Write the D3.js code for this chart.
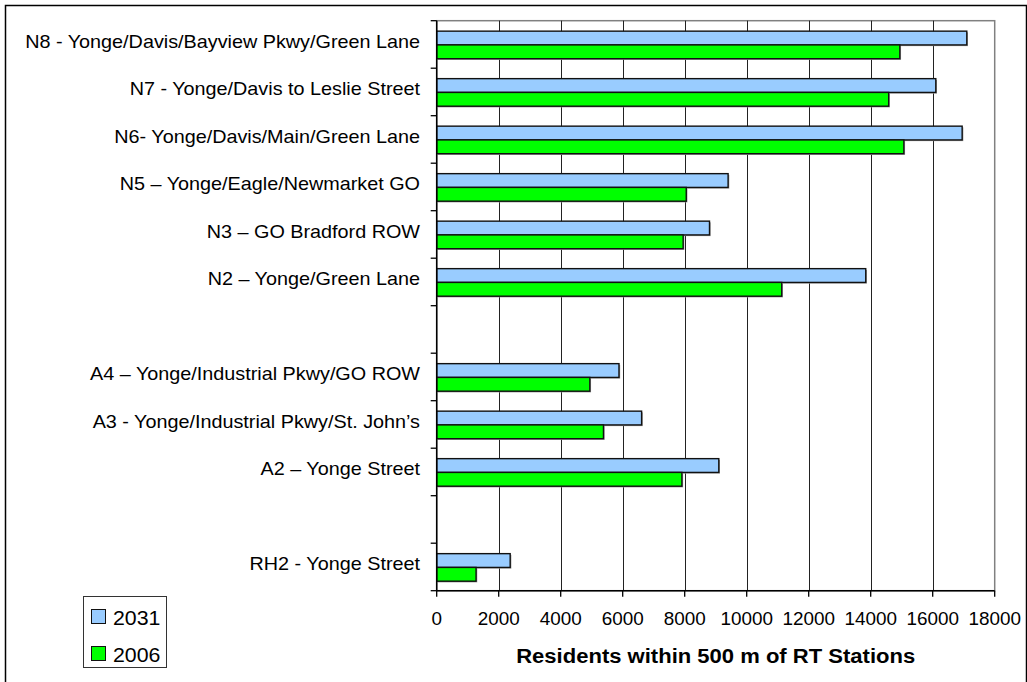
<!DOCTYPE html>
<html>
<head>
<meta charset="utf-8">
<script src="https://cdn.jsdelivr.net/npm/d3@7"></script>
<style>
  html, body { margin: 0; padding: 0; background: #fff; }
  svg { display: block; font-family: "Liberation Sans", Arial, sans-serif; }
</style>
</head>
<body>
<svg id="chart" width="1027" height="682"></svg>
<script>
// ---- data ----
const categories = [
  "N8 - Yonge/Davis/Bayview Pkwy/Green Lane",
  "N7 - Yonge/Davis to Leslie Street",
  "N6- Yonge/Davis/Main/Green Lane",
  "N5 – Yonge/Eagle/Newmarket GO",
  "N3 – GO Bradford ROW",
  "N2 – Yonge/Green Lane",
  "",
  "A4 – Yonge/Industrial Pkwy/GO ROW",
  "A3 - Yonge/Industrial Pkwy/St. John’s",
  "A2 – Yonge Street",
  " ",
  "RH2 - Yonge Street"
];
const values2031 = [17100, 16100, 16950, 9400, 8800, 13840, null, 5880, 6610, 9100, null, 2370];
const values2006 = [14940, 14580, 15070, 8050, 7950, 11130, null, 4940, 5380, 7910, null, 1270];
const seriesNames = ["2031", "2006"];
const seriesColors = ["#99CCFF", "#00FF00"];
const xTicks = [0, 2000, 4000, 6000, 8000, 10000, 12000, 14000, 16000, 18000];
const xTitle = "Residents within 500 m of RT Stations";

// ---- layout ----
const svg = d3.select("#chart");
const plot = { left: 436.7, right: 994.7, top: 20.7, bottom: 590.7 };

// outer frame
svg.append("rect")
  .attr("x", 5.5).attr("y", 5.5)
  .attr("width", 1021).attr("height", 690)
  .attr("fill", "none").attr("stroke", "#000").attr("stroke-width", 1.5);

const x = d3.scaleLinear().domain([0, 18000]).range([plot.left, plot.right]);
const y = d3.scaleBand().domain(categories).range([plot.top, plot.bottom]).padding(0);
const bw = y.bandwidth();
const y1 = d3.scaleBand().domain(seriesNames).range([0.22 * bw, 0.8 * bw]).padding(0);

// plot area border (gray)
svg.append("rect")
  .attr("x", plot.left).attr("y", plot.top)
  .attr("width", plot.right - plot.left).attr("height", plot.bottom - plot.top)
  .attr("fill", "#fff").attr("stroke", "#808080").attr("stroke-width", 1.5);

// vertical gridlines
svg.append("g").selectAll("line")
  .data(xTicks.slice(1, -1))
  .join("line")
  .attr("x1", d => Math.round(x(d)) + 0.5).attr("x2", d => Math.round(x(d)) + 0.5)
  .attr("y1", plot.top).attr("y2", plot.bottom)
  .attr("stroke", "#222").attr("stroke-width", 1);

// bars
const rows = categories.map((c, i) => ({ cat: c, vals: [values2031[i], values2006[i]] }));
const barG = svg.append("g");
rows.forEach(r => {
  r.vals.forEach((v, j) => {
    if (v == null) return;
    const yy = y(r.cat) + y1(seriesNames[j]);
    const h = y1.bandwidth();
    barG.append("rect")
      .attr("x", x(0) + 1.2).attr("y", yy + 1.2)
      .attr("width", x(v) - x(0)).attr("height", h)
      .attr("fill", "#999");
    barG.append("rect")
      .attr("x", x(0)).attr("y", yy)
      .attr("width", x(v) - x(0)).attr("height", h)
      .attr("fill", seriesColors[j])
      .attr("stroke", "#111").attr("stroke-width", 1.4);
  });
});

// y axis line + ticks at band boundaries
const yTickPos = categories.map(c => y(c)).concat([plot.bottom]);
svg.append("line")
  .attr("x1", plot.left).attr("x2", plot.left)
  .attr("y1", plot.top).attr("y2", plot.bottom)
  .attr("stroke", "#000").attr("stroke-width", 1.5);
svg.append("g").selectAll("line")
  .data(yTickPos).join("line")
  .attr("x1", plot.left - 6).attr("x2", plot.left)
  .attr("y1", d => d).attr("y2", d => d)
  .attr("stroke", "#000").attr("stroke-width", 1.3);

// category labels (slightly stretched horizontally as in the reference)
svg.append("g").selectAll("text")
  .data(categories).join("text")
  .attr("transform", d => `translate(420,${y(d) + bw / 2 + 3.2}) scale(1.1,1)`)
  .attr("text-anchor", "end")
  .attr("font-size", 18)
  .attr("fill", "#000")
  .text(d => d.trim());

// x axis
svg.append("line")
  .attr("x1", plot.left).attr("x2", plot.right)
  .attr("y1", plot.bottom).attr("y2", plot.bottom)
  .attr("stroke", "#000").attr("stroke-width", 1.5);
svg.append("g").selectAll("line")
  .data(xTicks).join("line")
  .attr("x1", d => x(d)).attr("x2", d => x(d))
  .attr("y1", plot.bottom).attr("y2", plot.bottom + 6)
  .attr("stroke", "#000").attr("stroke-width", 1.3);
svg.append("g").selectAll("text")
  .data(xTicks).join("text")
  .attr("transform", d => `translate(${x(d)},624.5) scale(1.05,1)`)
  .attr("text-anchor", "middle")
  .attr("font-size", 18)
  .attr("fill", "#000")
  .text(d => d);

// x title
svg.append("text")
  .attr("transform", `translate(${(plot.left + plot.right) / 2},663) scale(1.13,1)`)
  .attr("text-anchor", "middle")
  .attr("font-size", 19.5)
  .attr("font-weight", "bold")
  .attr("fill", "#000")
  .text(xTitle);

// legend
const lg = svg.append("g");
lg.append("rect")
  .attr("x", 83.5).attr("y", 596.5).attr("width", 83).attr("height", 71)
  .attr("fill", "#fff").attr("stroke", "#333").attr("stroke-width", 1);
seriesNames.forEach((s, i) => {
  const yy = 609.5 + i * 37;
  lg.append("rect")
    .attr("x", 91.5).attr("y", yy).attr("width", 14).attr("height", 14)
    .attr("fill", seriesColors[i]).attr("stroke", "#111").attr("stroke-width", 1);
  lg.append("text")
    .attr("transform", `translate(113,${yy + 15.5}) scale(1.04,1)`)
    .attr("font-size", 20.5)
    .attr("fill", "#000")
    .text(s);
});
</script>
</body>
</html>
